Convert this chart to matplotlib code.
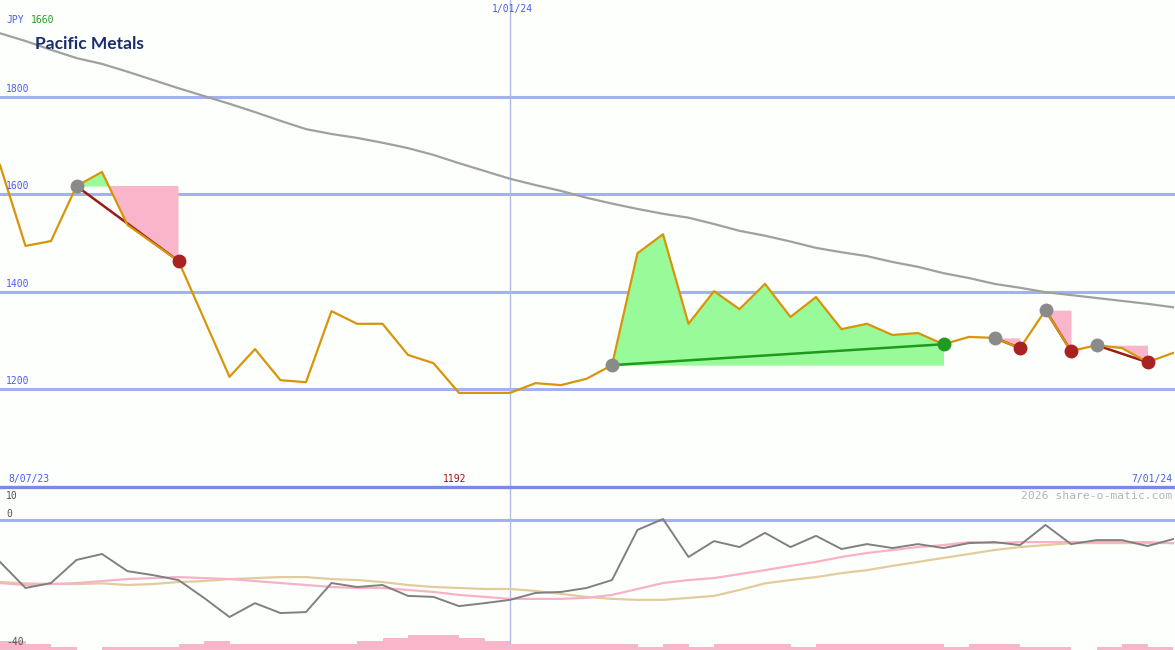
import matplotlib
matplotlib.use("Agg")
import matplotlib.pyplot as plt
import numpy as np

# ---------------- data ----------------
title = "Pacific Metals"
currency = "JPY"
headline_price = "1660"
date_start = "8/07/23"
date_mid = "1/01/24"
date_end = "7/01/24"
min_label = "1192"
price_ticks = [1200, 1400, 1600, 1800]
osc_ticks = [10, 0, -40]

price = [1660, 1494, 1504, 1617, 1646, 1537, 1500, 1463, 1344, 1225,
         1282, 1218, 1214, 1360, 1334, 1334, 1270, 1253, 1192, 1192,
         1192, 1212, 1208, 1221, 1249, 1479, 1518, 1334, 1401, 1364,
         1416, 1348, 1389, 1323, 1334, 1311, 1315, 1292, 1307, 1305,
         1284, 1362, 1278, 1290, 1284, 1255, 1274]

ma_long = [1931, 1915, 1897, 1880, 1868, 1852, 1835, 1818, 1802, 1786,
           1769, 1751, 1734, 1724, 1716, 1706, 1695, 1681, 1664, 1648,
           1632, 1619, 1607, 1593, 1581, 1570, 1560, 1552, 1539, 1525,
           1515, 1503, 1490, 1481, 1473, 1461, 1451, 1438, 1428, 1416,
           1408, 1399, 1393, 1387, 1381, 1375, 1368]

# signals: (start index, end index)
signals = [(3, 7), (24, 37), (39, 40), (41, 42), (43, 45)]

osc = [-12.7, -20.6, -19.1, -12.1, -10.3, -15.5, -16.7, -18.2, -23.6, -29.4,
       -25.2, -28.2, -27.9, -19.1, -20.3, -19.7, -23.0, -23.3, -26.1, -25.2,
       -24.2, -22.1, -21.8, -20.6, -18.2, -3.0, 0.3, -11.2, -6.4, -8.2,
       -3.9, -8.2, -4.8, -8.8, -7.3, -8.5, -7.3, -8.5, -7.0, -6.7,
       -7.6, -1.5, -7.3, -6.1, -6.1, -7.9, -5.8]

osc_fast = [-19.1, -19.7, -19.4, -19.1, -18.5, -17.9, -17.6, -17.3, -17.6, -17.9,
            -18.5, -19.1, -19.7, -20.3, -20.6, -20.6, -21.2, -21.8, -22.7, -23.3,
            -23.9, -23.9, -23.9, -23.6, -22.7, -20.9, -19.1, -18.2, -17.6, -16.4,
            -15.2, -13.9, -12.7, -11.2, -10.0, -9.1, -8.2, -7.6, -6.7, -7.0,
            -6.7, -6.7, -6.7, -6.7, -6.7, -6.7, -7.0]

osc_slow = [-18.8, -19.2, -19.4, -19.4, -19.2, -19.7, -19.4, -18.8, -18.5, -17.9,
            -17.6, -17.3, -17.3, -17.9, -18.2, -18.8, -19.7, -20.3, -20.6, -20.9,
            -20.9, -21.5, -22.4, -23.3, -23.9, -24.2, -24.2, -23.6, -23.0, -21.2,
            -19.2, -18.2, -17.3, -16.1, -15.2, -13.9, -12.7, -11.5, -10.3, -9.1,
            -8.2, -7.6, -7.0, -7.0, -7.0, -7.0, -7.0]

volume = [3, 2, 1, 0, 1, 1, 1, 2, 3, 2, 2, 2, 2, 2, 3, 4, 5, 5, 4, 3,
          2, 2, 2, 2, 2, 1, 2, 1, 2, 2, 2, 1, 2, 2, 2, 2, 2, 1, 2, 2,
          1, 1, 0, 1, 2, 1]

# ---------------- style ----------------
W, H = 1175, 650
BG = "#fdfffd"
GRID = "#a3b0f2"
BLUE_TXT = "#4a5cf0"
PRICE_C = "#d8950a"
MA_C = "#a0a0a0"
GREEN_FILL = "#98fa98"
PINK_FILL = "#f9b5c9"
RED_DOT = "#a82222"
GREEN_DOT = "#229922"
GRAY_DOT = "#8a8a8a"
MONO = "DejaVu Sans Mono"

fig = plt.figure(figsize=(W / 100, H / 100), dpi=100, facecolor=BG)
split = 487
ax = fig.add_axes([0, (H - split) / H, 1, split / H])
ax2 = fig.add_axes([0, 0, 1, (H - split) / H])
for a in (ax, ax2):
    a.set_facecolor(BG)
    a.axis("off")

step = 25.5
n = len(price)
x = np.arange(n)
xmax = W / step
pxu = 292 / 600.0  # pixels per price unit
ymin_main = 1200 - (split - 389) / pxu
ymax_main = 1200 + 389 / pxu
ax.set_xlim(0, xmax)
ax.set_ylim(ymin_main, ymax_main)

# grid lines
for t in price_ticks:
    ax.axhline(t, color=GRID, lw=2.2, zorder=1)
    ax.text(6 / step, t + 3 / pxu, str(t), color=BLUE_TXT, fontsize=7,
            family=MONO, ha="left", va="bottom", zorder=7)
ax.axvline(20, color="#b0b8e6", lw=1.0, zorder=1)

# long moving average
ax.plot(x, ma_long, color=MA_C, lw=1.6, zorder=2)

# signals
p = np.array(price, dtype=float)
for s, e in signals:
    xs = x[s:e + 1]
    ys = p[s:e + 1]
    lvl = p[s]
    ax.fill_between(xs, lvl, ys, where=ys >= lvl, interpolate=True,
                    color=GREEN_FILL, lw=0, zorder=3)
    ax.fill_between(xs, lvl, ys, where=ys <= lvl, interpolate=True,
                    color=PINK_FILL, lw=0, zorder=3)
    win = p[e] >= p[s]
    ax.plot([s, e], [p[s], p[e]], color=("#1f9a1f" if win else "#9a1a1a"),
            lw=1.8, zorder=4)

ax.plot(x, price, color=PRICE_C, lw=1.6, zorder=5)

for s, e in signals:
    win = p[e] >= p[s]
    c = GREEN_DOT if win else RED_DOT
    ax.plot(s, p[s], "o", color=GRAY_DOT, ms=10, mec="none", zorder=6)
    ax.plot(e, p[e], "o", color=c, ms=10, mec="none", zorder=6)

# ---------------- oscillator panel ----------------
opx = 3.3
o_top = 10
o_bot = o_top - (H - split) / opx
ax2.set_xlim(0, xmax)
ax2.set_ylim(o_bot, o_top)
ax2.axhline(0, color=GRID, lw=2.2, zorder=1)
ax2.axvline(20, color="#b0b8e6", lw=1.0, zorder=1)
ax2.bar(np.arange(len(volume)), np.array(volume) * 3 / opx, width=1.0,
        bottom=o_bot, align="edge", color=PINK_FILL, lw=0, zorder=2)
ax2.plot(x, osc_slow, color="#e2cc9c", lw=1.6, zorder=3)
ax2.plot(x, osc_fast, color="#f8b2c8", lw=1.6, zorder=3)
ax2.plot(x, osc, color="#808080", lw=1.4, zorder=4)

# separator line
fig.add_artist(plt.Line2D([0, 1], [(H - split) / H] * 2, color="#7a88e6",
                          lw=2.4, transform=fig.transFigure))

# ---------------- texts ----------------
def ft(px, py, s, **kw):
    fig.text(px / W, 1 - py / H, s, **kw)

ft(6, 20, currency, color=BLUE_TXT, fontsize=7, family=MONO, va="center")
ft(31, 20, headline_price, color="#22a022", fontsize=7, family=MONO, va="center")
ft(35, 44, title, color="#1a2d6e", fontsize=12.5, family="Lato",
   fontweight="bold", va="center")
ft(512, 9, date_mid, color=BLUE_TXT, fontsize=7, family=MONO, ha="center", va="center")
ft(8, 479, date_start, color=BLUE_TXT, fontsize=7, family=MONO, va="center")
ft(1172, 479, date_end, color=BLUE_TXT, fontsize=7, family=MONO, ha="right", va="center")
ft(455, 479, min_label, color="#a01010", fontsize=7, family=MONO, ha="center", va="center")
ft(1172, 496, "2026 share-o-matic.com", color="#b4b4b4", fontsize=8.2,
   family=MONO, ha="right", va="center")
ft(6, 496, str(osc_ticks[0]), color="#505050", fontsize=7, family=MONO, va="center")
ft(6, 514, str(osc_ticks[1]), color="#505050", fontsize=7, family=MONO, va="center")
ft(6, 642, str(osc_ticks[2]), color="#505050", fontsize=7, family=MONO, va="center")

fig.savefig("out.png", dpi=100, facecolor=BG)
